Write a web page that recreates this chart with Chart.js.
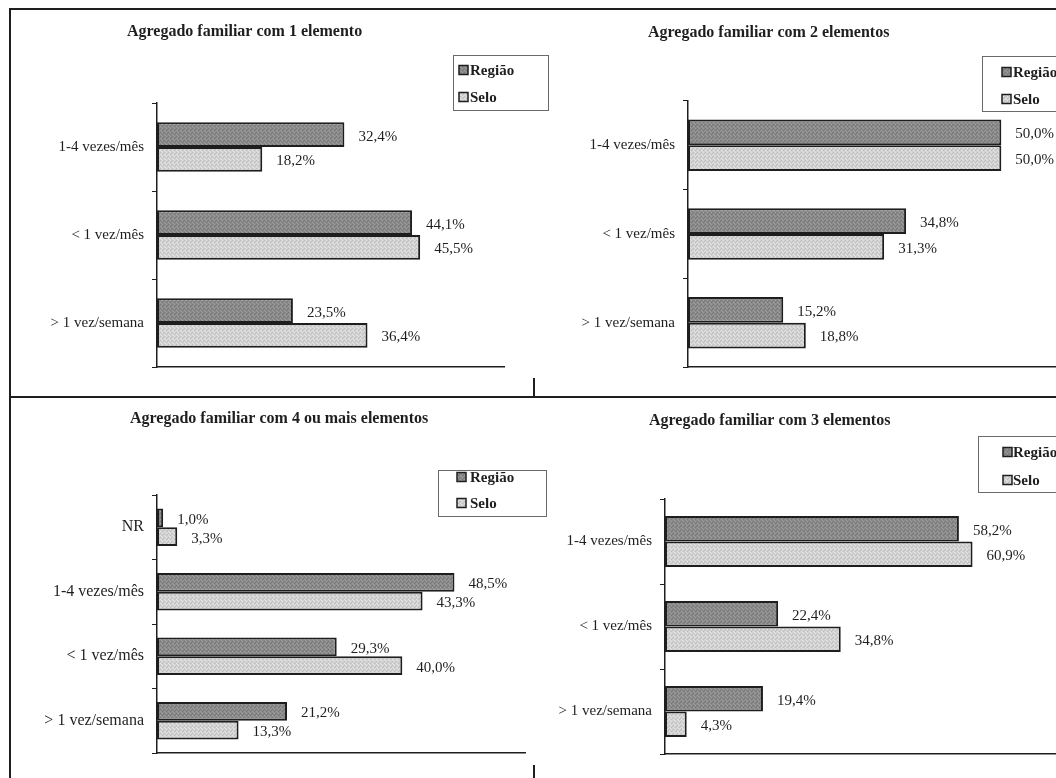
<!DOCTYPE html>
<html lang="pt">
<head>
<meta charset="utf-8">
<title>Agregado familiar - frequência</title>
<script src="https://cdn.jsdelivr.net/npm/chart.js@4.4.1/dist/chart.umd.min.js"></script>
<style>
  html, body { margin: 0; padding: 0; background: #fff; }
  body { width: 1056px; height: 778px; overflow: hidden; position: relative; }
  canvas { position: absolute; }
  .rule { position: absolute; background: #1e1e1e; }
</style>
</head>
<body>
<!-- page frame -->
<div class="rule" style="left:9px; top:8px; width:1047px; height:2px"></div>
<div class="rule" style="left:9px; top:8px; width:2px; height:770px"></div>
<div class="rule" style="left:9px; top:396px; width:1047px; height:2px"></div>
<div class="rule" style="left:533px; top:378px; width:2px; height:19px"></div>
<div class="rule" style="left:533px; top:765px; width:2px; height:13px"></div>

<canvas id="chart1" width="552" height="397" style="left:0; top:0"></canvas>
<canvas id="chart2" width="540" height="397" style="left:537px; top:0"></canvas>
<canvas id="chart3" width="552" height="381" style="left:0; top:397px"></canvas>
<canvas id="chart4" width="540" height="381" style="left:537px; top:397px"></canvas>

<script>
// categories
const freq3 = ["1-4 vezes/mês", "< 1 vez/mês", "> 1 vez/semana"];
const freq4 = ["NR", "1-4 vezes/mês", "< 1 vez/mês", "> 1 vez/semana"];

// series values (%)
const regiao1 = [32.4, 44.1, 23.5];
const selo1 = [18.2, 45.5, 36.4];
const regiao2 = [50.0, 34.8, 15.2];
const selo2 = [50.0, 31.3, 18.8];
const regiao4 = [1.0, 48.5, 29.3, 21.2];
const selo4 = [3.3, 43.3, 40.0, 13.3];
const regiao3 = [58.2, 22.4, 19.4];
const selo3 = [60.9, 34.8, 4.3];

const seriesNames = ["Região", "Selo"];
const titles = [
  "Agregado familiar com 1 elemento",
  "Agregado familiar com 2 elementos",
  "Agregado familiar com 4 ou mais elementos",
  "Agregado familiar com 3 elementos",
];
const axisMax = [60, 60, 60, 80];

const SERIF = '"Liberation Serif", "Times New Roman", serif';
const INK = "#1e1e1e";

// dotted fill like the old spreadsheet patterns
function speckle(base, dark, light) {
  const c = document.createElement("canvas");
  c.width = 4; c.height = 4;
  const g = c.getContext("2d");
  g.fillStyle = base; g.fillRect(0, 0, 4, 4);
  g.fillStyle = dark; g.fillRect(0, 0, 1, 1); g.fillRect(2, 2, 1, 1); g.fillRect(3, 1, 1, 1);
  g.fillStyle = light; g.fillRect(2, 0, 1, 1); g.fillRect(0, 2, 1, 1); g.fillRect(1, 3, 1, 1);
  return g.createPattern(c, "repeat");
}
const fillRegiao = speckle("#8a8a8a", "#767676", "#9c9c9c");
const fillSelo = speckle("#d2d2d2", "#bdbdbd", "#e3e3e3");

const pct = v => v.toFixed(1).replace(".", ",") + "%";

// value text just past the end of each bar
const valueLabels = {
  id: "valueLabels",
  afterDatasetsDraw(chart, args, opts) {
    const ctx = chart.ctx;
    ctx.save();
    ctx.font = opts.size + "px " + SERIF;
    ctx.fillStyle = INK;
    ctx.textBaseline = "middle";
    ctx.textAlign = "left";
    chart.data.datasets.forEach((ds, i) => {
      chart.getDatasetMeta(i).data.forEach((bar, j) => {
        ctx.fillText(pct(ds.data[j]), bar.x + 14, bar.y + 2);
      });
    });
    ctx.restore();
  }
};

// bold heading, left-aligned at a fixed spot
const heading = {
  id: "heading",
  afterDraw(chart, args, o) {
    const ctx = chart.ctx;
    ctx.save();
    ctx.font = "bold 16px " + SERIF;
    ctx.fillStyle = INK;
    ctx.textBaseline = "middle";
    ctx.textAlign = "left";
    ctx.fillText(o.text, o.x, o.y);
    ctx.restore();
  }
};

// framed legend box with square swatches
const boxedLegend = {
  id: "boxedLegend",
  afterDraw(chart, args, o) {
    const ctx = chart.ctx;
    ctx.save();
    ctx.strokeStyle = "#6a6a6a";
    ctx.lineWidth = 1;
    ctx.strokeRect(o.x + 0.5, o.y + 0.5, o.w, o.h);
    ctx.font = "bold 15px " + SERIF;
    ctx.textBaseline = "middle";
    chart.data.datasets.forEach((ds, i) => {
      const cy = o.rows[i];
      ctx.fillStyle = ds.backgroundColor;
      ctx.fillRect(o.swatchX, cy - 4.5, 9, 9);
      ctx.strokeStyle = INK;
      ctx.lineWidth = 1.5;
      ctx.strokeRect(o.swatchX, cy - 4.5, 9, 9);
      ctx.fillStyle = INK;
      ctx.fillText(ds.label, o.textX, cy + 1);
    });
    ctx.restore();
  }
};

function drawPanel(id, title, labels, regiao, selo, max, lay) {
  new Chart(document.getElementById(id), {
    type: "bar",
    data: {
      labels: labels,
      datasets: [
        { label: seriesNames[0], data: regiao, backgroundColor: fillRegiao },
        { label: seriesNames[1], data: selo, backgroundColor: fillSelo },
      ],
    },
    options: {
      indexAxis: "y",
      responsive: false,
      animation: false,
      events: [],
      layout: { padding: { left: 0, right: lay.padRight, top: lay.top, bottom: lay.padBottom } },
      datasets: {
        bar: {
          borderColor: INK,
          borderWidth: 2,
          borderSkipped: false,
          barPercentage: 1,
          categoryPercentage: lay.band,
        },
      },
      scales: {
        x: {
          min: 0,
          max: max,
          ticks: { display: false },
          grid: { display: false },
          border: { color: INK, width: 1.5 },
          afterFit: s => { s.height = 0; },
        },
        y: {
          ticks: { color: INK, padding: 8, font: { family: SERIF, size: lay.catSize } },
          grid: { drawOnChartArea: false, color: INK, tickLength: 5, offset: true },
          border: { color: INK, width: 1.5 },
          afterFit: s => { s.width = lay.axisX; },
        },
      },
      plugins: {
        legend: { display: false },
        tooltip: { enabled: false },
        title: { display: false },
        heading: { text: title, x: lay.titleX, y: lay.titleY },
        valueLabels: { size: lay.valSize },
        boxedLegend: lay.legend,
      },
    },
    plugins: [valueLabels, heading, boxedLegend],
  });
}

drawPanel("chart1", titles[0], freq3, regiao1, selo1, axisMax[0], {
  axisX: 157, padRight: 48, top: 103, padBottom: 30,
  titleX: 127, titleY: 32, band: 0.56, catSize: 15, valSize: 15,
  legend: { x: 453, y: 55, w: 95, h: 55, swatchX: 459, textX: 470, rows: [70, 97] },
});
drawPanel("chart2", titles[1], freq3, regiao2, selo2, axisMax[1], {
  axisX: 151, padRight: 13, top: 101, padBottom: 30,
  titleX: 111, titleY: 33, band: 0.58, catSize: 15, valSize: 15,
  legend: { x: 445, y: 56, w: 120, h: 55, swatchX: 465, textX: 476, rows: [72, 99] },
});
drawPanel("chart3", titles[2], freq4, regiao4, selo4, axisMax[2], {
  axisX: 157, padRight: 27, top: 98, padBottom: 25,
  titleX: 130, titleY: 22, band: 0.58, catSize: 16, valSize: 15,
  legend: { x: 438, y: 73, w: 108, h: 46, swatchX: 457, textX: 470, rows: [80, 106] },
});
drawPanel("chart4", titles[3], freq3, regiao3, selo3, axisMax[3], {
  axisX: 128, padRight: 8, top: 102, padBottom: 24,
  titleX: 112, titleY: 24, band: 0.6, catSize: 15, valSize: 15,
  legend: { x: 441, y: 39, w: 120, h: 56, swatchX: 466, textX: 476, rows: [55, 83] },
});
</script>
</body>
</html>
